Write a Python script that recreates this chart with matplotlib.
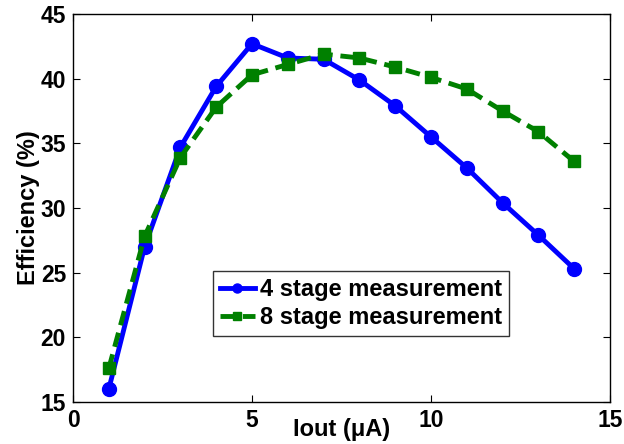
import numpy as np
import matplotlib
matplotlib.use('Agg')
import matplotlib.pyplot as plt

plt.rcParams['font.family'] = ['Liberation Sans', 'DejaVu Sans']
plt.rcParams['font.weight'] = 'bold'

iout = [1, 2, 3, 4, 5, 6, 7, 8, 9, 10, 11, 12, 13, 14]
eff_4stage = [16.0, 27.0, 34.7, 39.4, 42.7, 41.6, 41.5, 39.9, 37.9, 35.5, 33.1, 30.4, 27.9, 25.3]
eff_8stage = [17.6, 27.8, 33.9, 37.8, 40.3, 41.1, 41.9, 41.6, 40.9, 40.1, 39.2, 37.5, 35.9, 33.6]

fig = plt.figure(figsize=(6.24, 4.44), dpi=100)
ax = fig.add_axes([73 / 624, 1 - 402 / 444, 537 / 624, 388 / 444])

ax.plot(iout, eff_4stage, '-o', color='#0000ff', lw=3.5, ms=10,
        label='4 stage measurement')
ax.plot(iout, eff_8stage, '--s', color='#008000', lw=3.5, ms=9,
        dashes=(3, 1.6), label='8 stage measurement')

ax.set_xlim(0, 15)
ax.set_ylim(15, 45)
ax.set_xticks([0, 5, 10, 15])
ax.set_yticks([15, 20, 25, 30, 35, 40, 45])
ax.tick_params(direction='in', top=True, right=True, labelsize=16.5, length=5, pad=5)
for lab in ax.get_xticklabels() + ax.get_yticklabels():
    lab.set_fontweight('bold')
for s in ax.spines.values():
    s.set_linewidth(1.0)

ax.set_xlabel('Iout (\u03bcA)', fontsize=17, fontweight='bold', labelpad=-10)
ax.set_ylabel('Efficiency (%)', fontsize=17, fontweight='bold', labelpad=0)

leg = ax.legend(loc='lower left', bbox_to_anchor=(0.26, 0.17), fontsize=17,
                frameon=True, fancybox=False, edgecolor='black',
                handlelength=1.5, borderpad=0.3, labelspacing=0.2,
                handletextpad=0.2, borderaxespad=0, markerscale=0.65)
leg.get_frame().set_linewidth(1.0)
for t in leg.get_texts():
    t.set_fontweight('bold')

fig.savefig('out.png', dpi=100)
